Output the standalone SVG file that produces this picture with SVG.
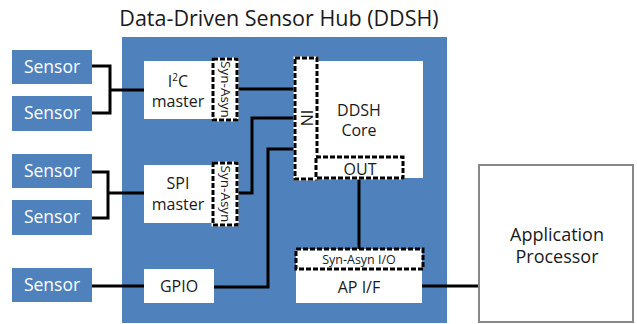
<svg xmlns="http://www.w3.org/2000/svg" width="637" height="324" viewBox="0 0 637 324">
<style>
text{font-family:"Open Sans","Noto Sans","DejaVu Sans",sans-serif;fill:#1a1a1a;text-anchor:middle}
.sensor rect{fill:#4F81BD}
.sensor text{fill:#ffffff;font-size:17.5px}
.white{fill:#ffffff}
.lbl{font-size:16px}
.big{font-size:18px}
.small{font-size:12.5px}
.rot{font-size:13.5px}
.dashbg{fill:#ffffff;stroke:#ffffff;stroke-width:3}
.dash{fill:none;stroke:#000000;stroke-width:3;stroke-dasharray:5 2}
.wire{fill:none;stroke:#000000;stroke-width:3}
</style>
<rect width="637" height="324" fill="#ffffff"/>
<text x="279" y="26" style="font-size:21.5px">Data-Driven Sensor Hub (DDSH)</text>
<g id="hub"><rect x="122" y="37" width="325" height="286" fill="#4F81BD"/></g>

<g id="connectors">
<polyline class="wire" points="92,66 110,66 110,113 92,113"/>
<line class="wire" x1="110" y1="90" x2="144" y2="90"/>
<polyline class="wire" points="92,172 108,172 108,218 92,218"/>
<line class="wire" x1="108" y1="193" x2="144" y2="193"/>
<line class="wire" x1="92" y1="286" x2="144" y2="286"/>
<line class="wire" x1="238" y1="89" x2="295" y2="89"/>
<polyline class="wire" points="237,193 252,193 252,118 295,118"/>
<polyline class="wire" points="214,287 268,287 268,149 295,149"/>
<line class="wire" x1="359" y1="178" x2="359" y2="249"/>
<line class="wire" x1="422" y1="286" x2="479" y2="286"/>
</g>

<g id="sensor1" class="sensor"><rect x="12" y="50" width="80" height="34"/><text x="52" y="73">Sensor</text></g>
<g id="sensor2" class="sensor"><rect x="12" y="96" width="80" height="35"/><text x="52" y="119">Sensor</text></g>
<g id="sensor3" class="sensor"><rect x="12" y="154" width="80" height="34"/><text x="52" y="177">Sensor</text></g>
<g id="sensor4" class="sensor"><rect x="12" y="200" width="80" height="35"/><text x="52" y="223">Sensor</text></g>
<g id="sensor5" class="sensor"><rect x="12" y="268" width="80" height="34"/><text x="52" y="291">Sensor</text></g>

<g id="i2c">
<rect class="white" x="144" y="61" width="69" height="58"/>
<text class="lbl" x="178" y="87">I<tspan style="font-size:10px" dy="-6">2</tspan><tspan dy="6">C</tspan></text>
<text class="lbl" x="178" y="107">master</text>
<rect class="dashbg" x="213" y="59" width="24" height="61"/>
<rect class="dash" x="213" y="59" width="24" height="61"/>
<text class="rot" transform="translate(220.5,89.5) rotate(90)">Syn-Asyn</text>
</g>

<g id="spi">
<rect class="white" x="144" y="165" width="69" height="58"/>
<text class="lbl" x="178" y="189">SPI</text>
<text class="lbl" x="178" y="210">master</text>
<rect class="dashbg" x="213" y="163" width="24" height="62"/>
<rect class="dash" x="213" y="163" width="24" height="62"/>
<text class="rot" transform="translate(220.5,194) rotate(90)">Syn-Asyn</text>
</g>

<g id="gpio">
<rect class="white" x="144" y="269" width="70" height="34"/>
<text class="lbl" x="179" y="292">GPIO</text>
</g>

<g id="core">
<rect class="white" x="317" y="61" width="106" height="117"/>
<text class="lbl" x="359" y="116">DDSH</text>
<text class="lbl" x="359" y="136">Core</text>
<rect class="dashbg" x="295" y="58" width="22" height="121"/>
<rect class="dash" x="295" y="58" width="22" height="121"/>
<text class="lbl" transform="translate(301,118) rotate(90)">IN</text>
<rect class="dashbg" x="316" y="157" width="87" height="21"/>
<rect class="dash" x="316" y="157" width="87" height="21"/>
<text class="lbl" x="360" y="175">OUT</text>
</g>

<g id="apif">
<rect class="white" x="296" y="249" width="126" height="54"/>
<rect class="dash" x="296" y="249" width="127" height="20"/>
<text class="small" x="359" y="264">Syn-Asyn I/O</text>
<text class="lbl" x="359" y="293">AP I/F</text>
</g>

<g id="ap">
<rect x="479" y="165" width="154" height="157" fill="#ffffff" stroke="#888888" stroke-width="2"/>
<text class="big" x="557" y="241">Application</text>
<text class="big" x="557" y="263">Processor</text>
</g>
</svg>
